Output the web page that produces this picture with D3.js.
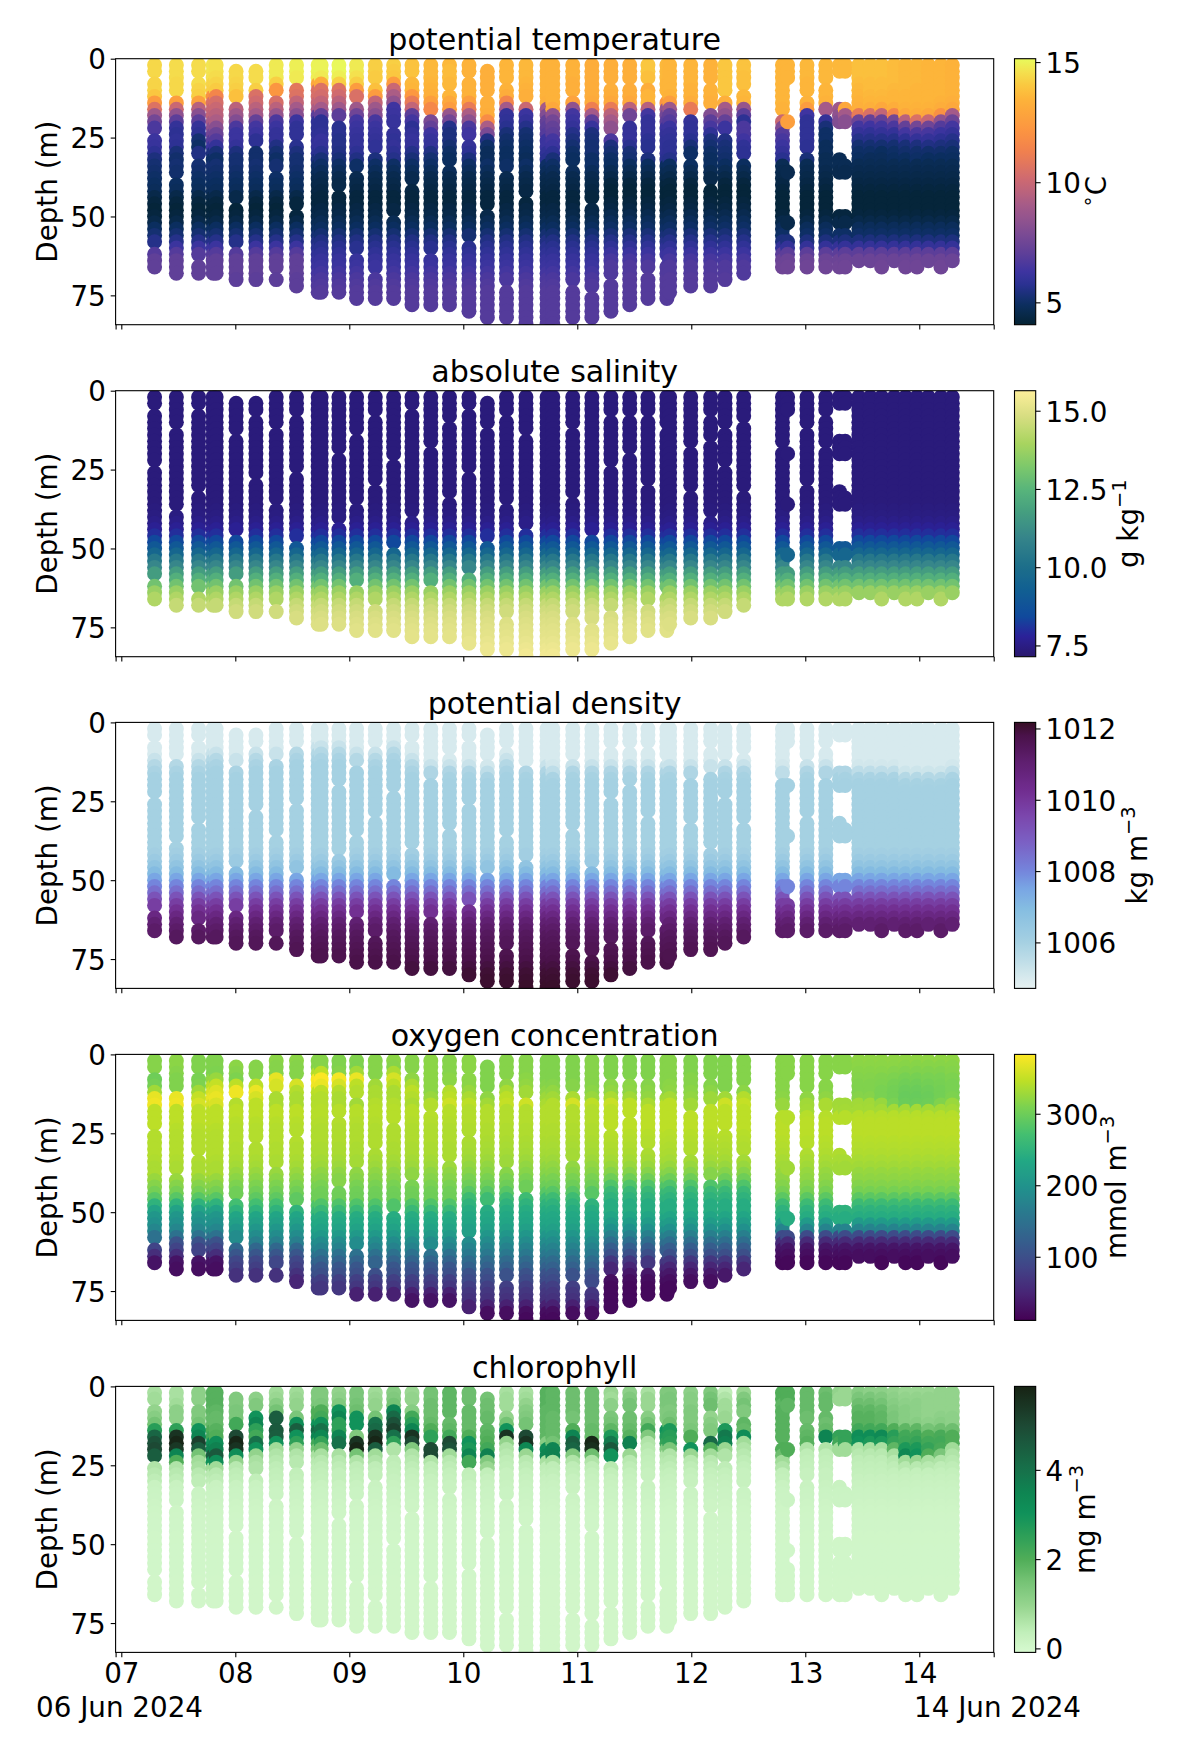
<!DOCTYPE html>
<html><head><meta charset="utf-8">
<script src="https://cdn.jsdelivr.net/npm/d3@7"></script>
<style>html,body{margin:0;padding:0;background:#fff}svg{display:block}text{font-family:"DejaVu Sans",sans-serif;fill:#000}</style>
</head><body><svg id="c" width="1200" height="1750"></svg>
<script>
const panelTitles=["potential temperature","absolute salinity","potential density","oxygen concentration","chlorophyll"];
const unitPrefix=["∘","","","",""];
const unitBase=["C","g kg","kg m","mmol m","mg m"];
const unitSup=["","−1","−3","−3","−3"];
const cbTicks=[[5,10,15],[7.5,10,12.5,15],[1006,1008,1010,1012],[100,200,300],[0,2,4]];
const cbFormats=[d3.format("d"),d3.format(".1f"),d3.format("d"),d3.format("d"),d3.format("d")];
const cbDomains=[[4.07,15.14],[7.14,15.64],[1004.71,1012.17],[11,383],[-0.09,5.87]];
const dayTicks=[7,8,9,10,11,12,13,14];
const depthTicks=[0,25,50,75];
const dayLimits=[6.95,14.653];
const depthLimits=[0,84.3];
const depthBins=[2,4,6,8,10,12,14,16,18,20,22,24,26,28,30,32,34,36,38,40,42,44,46,48,50,52,54,56,58,60,62,64,66,68,70,72,74,76,78,80,82,84];

const diveDays=[7.292,7.483,7.678,7.806,7.832,8.007,8.181,8.359,8.537,8.727,8.753,8.909,9.064,9.228,9.389,9.55,9.715,9.879,10.05,10.211,10.379,10.55,10.735,10.785,10.96,11.128,11.295,11.46,11.62,11.786,11.81,11.995,12.17,12.296,12.46,12.80,12.845,13.015,13.18,13.30,13.35,13.47,13.57,13.67,13.78,13.88,13.98,14.08,14.19,14.29];
const diveTops=[2,2,2,2,2,4,4,2,2,2,2,2,2,2,2,2,2,2,2,4,2,2,2,2,2,2,2,2,2,2,2,2,2,2,2,2,2,2,2,2,2,2,2,2,2,2,2,2,2,2];
const diveBottoms=[66,68,68,68,68,70,70,70,72,74,74,74,76,76,76,78,78,78,80,82,82,84,84,84,82,82,80,78,76,76,74,72,72,70,68,66,66,66,66,66,66,64,64,66,64,66,66,64,66,64];
const diveGaps=[[6,24,60],[12,38],[6,32,64],[],[],[14,46,60],[8,28],[12,36,68],[8,26,48],[],[],[20,42],[14,36,62],[8,30,68],[22,50],[6,40],[18,62],[10,34],[6,26,58],[12,48],[8,36,72],[14,44],[],[],[12,34,72],[46,74],[8,24,70],[20,8],[8,30,68],[12,64],[],[18,32],[8,16,40],[12,24],[10,32],
[18],[8,10,12,14,16,18,22,24,26,28,30,32,34,38,40,42,44,46,48,50,54,56],[12,30],[8,18],[6,8,10,12,14,22,24,26,28,30,38,40,42,44,46,48,54],[6,8,10,12,14,22,24,26,28,30,32,38,40,42,44,46,48,54],[],[],[],[],[],[],[],[],[]];

const tempUpper=[
[14.4,14.4,14.4,14.3,14.3,14.0,12.5,10.6,8.8,7.6,6.6,6.3,6.2,6.1,5.8,5.4],
[14.5,14.5,14.5,14.4,14.4,14.1,12.6,10.0,8.4,7.0,6.0,5.8,5.9,5.8,5.3,5.1],
[14.5,14.5,14.5,14.5,14.3,14.2,12.7,9.5,8.2,7.0,6.0,5.8,5.2,5.0,5.5,5.9],
[14.7,14.7,14.6,14.3,14.2,12.0,10.5,10.0,9.8,9.2,8.4,7.6,6.9,6.2,5.4,5.0],
[14.6,14.6,14.5,14.3,14.1,11.5,10.4,10.0,9.6,9.2,8.2,7.4,6.8,6.0,5.3,5.0],
[14.4,14.4,14.4,14.3,14.2,13.8,10.5,9.6,8.8,8.0,6.6,6.2,6.2,6.0,5.4,5.2],
[14.5,14.5,14.5,14.4,14.2,10.5,10.2,9.6,9.0,7.2,6.4,6.2,5.8,5.3,5.1,5.1],
[14.8,14.8,14.8,14.2,12.2,10.8,10.4,9.6,8.6,6.6,6.2,6.0,6.0,5.5,5.2,5.0],
[14.9,14.9,14.8,14.5,10.8,10.6,9.8,9.0,8.2,6.2,5.9,5.9,6.0,5.7,5.4,5.2],
[15.0,15.0,14.9,13.0,10.5,10.4,9.9,9.2,7.0,5.9,5.8,5.9,6.0,6.0,5.8,5.4],
[15.0,15.0,14.8,13.2,10.6,10.3,9.8,9.0,7.2,5.8,5.8,5.9,6.1,6.0,5.7,5.3],
[15.1,15.1,14.9,14.2,10.6,10.2,9.6,8.8,7.0,5.8,5.7,5.7,5.6,5.6,5.5,5.3],
[14.8,14.8,14.6,14.2,12.5,10.5,10.0,8.8,7.5,6.4,6.2,6.1,6.0,6.0,5.8,5.5],
[14.2,14.2,14.1,14.1,13.8,12.5,9.8,8.8,8.2,6.5,6.2,6.1,6.0,5.9,5.7,5.4],
[14.2,14.1,14.0,12.5,10.0,9.2,8.4,6.3,6.2,6.1,6.1,6.0,5.9,6.0,5.8,5.6],
[13.9,13.9,13.8,13.6,13.5,12.3,11.0,9.8,7.0,6.4,5.8,6.0,6.1,6.0,5.6,5.3],
[13.6,13.6,13.6,13.5,13.4,13.3,12.6,11.6,11.0,7.8,7.2,6.3,6.1,6.0,5.5,5.2],
[13.6,13.7,13.7,13.6,13.5,13.5,13.0,12.5,8.6,7.6,5.6,5.4,5.4,5.2,5.0,4.9],
[13.4,13.4,13.4,13.4,13.4,13.4,12.6,11.0,9.2,8.3,6.6,6.3,6.1,6.0,5.8,5.4],
[13.3,13.3,13.3,13.3,13.3,13.3,13.3,13.3,13.2,11.8,9.2,7.8,5.5,5.0,4.8,4.8],
[13.5,13.5,13.5,13.5,13.4,13.2,11.5,9.0,6.0,5.9,5.7,5.3,5.1,5.0,4.9,4.9],
[13.6,13.6,13.6,13.5,13.4,13.3,13.0,10.0,6.2,6.0,5.6,5.2,5.1,5.0,4.9,4.8],
[13.4,13.4,13.4,13.4,13.4,13.4,13.3,9.0,8.0,7.2,7.0,6.8,6.2,6.2,5.9,5.7],
[13.4,13.4,13.4,13.4,13.4,13.4,13.4,13.0,8.4,7.6,7.2,7.0,6.4,6.2,5.8,5.3],
[13.4,13.4,13.4,13.3,13.3,13.3,12.8,8.4,6.4,6.2,6.0,5.6,5.4,5.2,5.0,4.9],
[13.2,13.2,13.2,13.2,13.2,13.2,13.1,11.2,9.0,7.0,6.1,5.4,5.3,5.2,5.2,5.0],
[13.3,13.3,13.3,13.3,13.3,13.2,13.0,11.0,9.6,9.0,8.4,7.2,6.6,5.4,5.2,5.0],
[13.3,13.3,13.3,13.3,13.2,13.2,13.0,9.6,7.5,6.0,6.0,6.0,6.0,5.7,5.3,5.2],
[14.0,14.0,13.8,13.4,13.2,13.5,13.5,9.5,6.4,6.0,6.0,6.0,5.8,5.7,5.6,5.4],
[13.6,13.6,13.6,13.5,13.5,13.4,12.2,8.6,7.6,7.0,6.2,6.0,5.9,5.9,5.9,5.7],
[13.5,13.5,13.5,13.5,13.5,13.4,12.6,8.8,7.2,6.8,6.2,6.0,5.9,5.8,5.8,5.6],
[13.5,13.5,13.5,13.5,13.4,13.4,13.2,11.0,8.0,6.0,5.9,5.9,5.7,5.3,5.0,5.0],
[13.4,13.4,13.4,13.4,13.4,13.4,13.3,9.0,8.0,7.0,6.5,5.9,5.4,5.2,5.0,4.9],
[14.0,14.0,14.0,14.0,14.0,13.8,13.3,9.0,8.4,7.2,6.2,5.8,5.5,5.3,5.2,5.1],
[13.9,13.9,13.8,13.8,13.7,13.6,13.5,8.6,7.0,5.8,6.6,6.6,6.3,5.9,5.8,5.6],
[13.5,13.5,13.5,13.5,13.5,13.5,13.5,13.4,12.8,10.0,8.0,6.8,6.5,6.2,6.0,5.7],
[13.5,13.5,13.5,13.5,13.5,13.5,13.4,13.2,13.0,12.6,8.0,6.8,6.4,6.0,5.9,5.6],
[13.6,13.6,13.6,13.5,13.5,13.5,13.4,12.5,6.3,5.9,5.9,5.9,5.9,5.8,5.4,5.3],
[13.6,13.6,13.6,13.5,13.5,13.5,13.4,9.0,8.0,6.0,5.3,5.0,5.0,4.8,4.8,4.7],
[13.6,13.6,13.6,13.6,13.5,13.5,13.5,8.8,8.4,8.0,6.4,5.6,5.0,4.9,4.8,4.7],
[13.6,13.6,13.6,13.6,13.6,13.5,13.5,13.0,9.0,8.2,6.8,6.0,5.2,5.0,4.9,4.8],
[13.8,13.8,13.8,13.7,13.6,13.5,13.4,13.3,11.0,7.4,6.4,6.0,5.6,5.2,5.0,4.9],
[13.8,13.8,13.8,13.7,13.7,13.6,13.5,13.3,10.5,7.2,6.3,5.9,5.6,5.2,5.0,4.8],
[13.8,13.8,13.8,13.7,13.7,13.6,13.5,13.0,9.8,7.2,6.4,6.0,5.6,5.2,4.9,4.8],
[13.7,13.7,13.7,13.7,13.6,13.5,13.5,13.2,11.5,7.6,6.6,6.0,5.6,5.2,5.0,4.9],
[13.6,13.6,13.6,13.6,13.6,13.5,13.5,13.4,13.0,9.5,7.2,6.4,5.8,5.3,5.1,4.9],
[13.6,13.6,13.6,13.6,13.5,13.5,13.5,13.4,13.2,10.5,7.6,6.6,6.0,5.4,5.1,5.0],
[13.5,13.5,13.5,13.5,13.5,13.5,13.5,13.4,13.0,10.0,7.5,6.5,6.0,5.5,5.1,4.9],
[13.5,13.5,13.5,13.5,13.5,13.5,13.4,13.2,12.0,8.4,6.8,6.2,5.8,5.4,5.1,4.9],
[13.4,13.4,13.4,13.4,13.4,13.4,13.3,13.0,9.0,7.4,6.4,6.0,5.6,5.3,5.0,4.9]];
const tempLower=[
[5.2,5.1,5.0,4.9,4.8,4.5,4.3,4.2,4.3,4.5,4.9,5.2,5.6,6.2,6.8,7.1,7.1,7.1,7.0,7.0,6.9,6.9,6.9,6.9,6.9,6.9],
[5.0,4.8,4.6,4.5,4.4,4.3,4.3,4.4,4.5,4.7,4.9,5.2,5.5,5.7,5.9,6.1,6.2,6.4,6.6,6.7,6.8,6.8,6.8,6.8,6.8,6.8],
[4.9,4.7,4.5,4.3,4.2,4.2,4.3,4.4,4.6,4.8,5.0,5.3,5.6,5.9,6.2,6.5,6.7,6.7,6.8,6.8,6.8,6.8,6.8,6.8,6.8,6.8],
[4.7,4.6,4.5,4.4,4.3,4.2,4.2,4.2,4.3,4.5,4.8,5.0,5.4,6.0,7.0,7.4,7.5,7.5,7.5,7.5,7.5,7.5,7.5,7.5,7.5,7.5]];
const tempGroup=[0,0,0,0,0,0,0,0,0,1,1,1,1,1,1,1,1,1,1,1,1,1,1,1,1,1,2,2,2,2,2,2,2,2,2,3,3,3,3,3,3,3,3,3,3,3,3,3,3,3];

const salinity=[7.35,7.35,7.35,7.35,7.35,7.35,7.35,7.35,7.35,7.35,7.35,7.35,7.35,7.35,7.35,7.35,7.35,7.35,7.4,7.45,7.55,7.7,8.0,8.4,9.0,9.6,10.4,11.0,11.7,12.3,13.0,13.7,14.1,14.5,14.7,14.85,14.95,15.05,15.1,15.2,15.3,15.4];

const densUpper=[
[1005,1005,1005,1005.3,1005.7,1005.9,1006,1006,1006,1006],
[1005,1005,1005,1005,1005.3,1005.7,1005.9,1006,1006,1006],
[1005,1005,1005,1005,1005,1005.3,1005.7,1005.9,1006,1006],
[1005,1005,1005,1005,1005,1005,1005.3,1005.8,1005.95,1006],
[1005,1005,1005,1005,1005,1005,1005.1,1005.5,1005.9,1006],
[1005,1005,1005,1005,1005,1005,1005,1005.2,1005.7,1005.95]];
const densDeep=[1006,1006,1006,1006,1006,1006,1006,1006,1006,1006,1006.1,1006.3,1006.6,1007,1007.5,1008,1008.5,1009.2,1009.8,1010.2,1010.6,1011,1011.2,1011.4,1011.5,1011.6,1011.7,1011.8,1011.9,1012,1012.05,1012.1];
const densGroup=[2,2,2,1,1,2,1,1,0,0,0,0,1,1,0,2,3,3,3,4,2,3,3,4,3,3,3,3,3,3,3,3,3,3,3,4,4,3,3,3,3,4,4,4,4,5,5,5,5,4];

const oxyUpper=[
[315,315,305,300,305,330,370,375],[318,318,315,312,312,340,372,375],[312,312,310,308,310,330,350,360],[312,312,310,322,345,360,370,360],[312,312,310,325,350,365,372,362],
[318,318,315,310,345,375,365,340],[315,315,315,315,345,372,360,345],[318,315,315,370,360,340,335,335],[318,315,315,380,360,340,335,335],[315,315,340,380,375,345,340,340],[315,315,345,382,372,345,340,340],
[312,312,315,378,360,340,335,335],[312,310,330,372,345,340,330,330],[315,315,315,320,330,335,335,340],[318,315,335,360,345,335,335,340],[315,315,315,320,335,345,340,335],[318,318,318,318,318,318,325,340],
[315,315,315,318,330,340,345,355],[318,318,318,318,318,325,335,345],[312,312,312,312,312,315,320,330],[315,315,315,315,320,335,345,350],[315,315,315,318,322,330,340,355],[312,312,312,312,315,320,328,335],
[312,312,312,312,315,322,330,340],[312,312,312,312,315,320,335,360],[315,315,315,315,315,318,325,345],[312,312,312,312,318,322,335,352],[312,312,312,315,318,320,330,345],[312,312,312,315,315,318,322,335],
[315,315,315,315,315,318,330,345],[315,315,315,315,318,320,332,345],[312,312,312,315,315,318,322,330],[312,312,312,312,314,318,328,345],[312,312,312,312,312,314,330,355],[314,314,314,314,314,318,340,350],
[316,316,316,316,316,316,318,325],[316,316,316,316,316,318,325,340],[316,316,316,316,316,316,320,330],[316,316,316,316,316,316,320,335],[316,316,316,316,316,316,320,330],[316,316,316,316,316,316,322,330],
[320,318,316,314,312,312,315,330],[320,318,316,314,312,312,315,330],[320,318,316,312,310,308,308,325],[320,318,314,310,306,304,304,308],[320,316,312,306,302,298,296,298],[320,316,312,306,302,298,296,298],[320,316,312,308,304,300,298,300],[320,316,312,308,306,304,304,312],[320,316,314,310,308,308,310,326]];
const oxyLower=[
[345,345,345,342,340,340,340,340,338,335,335,325,315,305,285,250,225,205,195,180,150,105,85,60,30,25,20,20,20,20,20,20,20,20],
[345,345,342,340,340,340,338,338,335,332,325,318,310,302,290,270,250,230,220,205,190,170,135,110,90,80,65,50,40,40,40,40,40,40],
[342,342,340,338,338,338,336,335,332,328,320,315,308,302,300,280,260,240,235,225,210,190,175,150,130,110,100,80,70,45,30,30,30,30],
[340,340,340,338,338,336,334,332,328,322,316,308,300,285,265,250,240,235,230,220,205,190,175,160,140,125,105,95,80,70,65,45,25,20],
[345,345,345,345,342,340,338,336,332,325,315,300,280,260,250,240,240,230,215,195,170,145,120,100,70,50,35,25,20,20,20,20,20,20],
[332,342,344,344,344,342,340,338,334,330,324,320,314,306,288,264,248,240,212,176,95,55,32,25,18,18,18,18,18,18,18,18,18,18]];
const oxyGroup=[0,0,0,0,0,1,1,1,1,2,2,2,2,2,2,2,2,2,3,3,3,3,3,3,3,3,4,4,4,4,4,4,4,4,4,5,5,5,5,5,5,5,5,5,5,5,5,5,5,5];

const chlUpper=[
[.7,.8,.9,1.0,1.2,1.5,2.6,4.3,4.8,5.0,4.5,1.8,.6,.5,.4],
[.7,.7,.8,1.1,1.1,1.3,2.5,5.5,5.8,5.4,3.5,2.0,.6,.5,.4],
[1.1,1.1,1.2,1.3,1.3,1.5,3.0,3.5,5.2,4.5,1.5,.8,.7,.5,.4],
[1.9,1.9,1.9,1.8,1.7,1.7,2.0,2.2,3.0,3.5,4.5,3.0,.8,.5,.4],
[1.9,1.9,1.9,1.8,1.7,1.7,1.9,2.0,3.2,3.6,4.6,3.2,.8,.5,.4],
[1.3,1.3,1.3,1.4,1.4,2.2,3.5,5.0,5.8,5.5,3.2,1.0,.5,.4,.35],
[1.0,1.1,1.3,1.4,3.0,3.5,2.5,2.2,4.0,3.0,1.0,.7,.6,.4,.35],
[.8,.9,1.2,1.5,4.5,4.8,4.6,4.5,3.0,.8,.6,.5,.4,.35,.3],
[.8,.9,1.0,1.3,1.4,3.2,4.5,3.0,2.5,1.0,.6,.5,.4,.35,.3],
[1.3,1.3,1.4,2.0,2.0,3.0,4.2,3.5,2.2,1.5,.7,.5,.4,.35,.3],
[1.3,1.3,1.4,2.0,2.2,3.1,4.0,3.4,2.4,1.6,.7,.5,.4,.35,.3],
[1.0,1.1,1.3,3.0,3.5,2.5,2.5,3.5,4.0,3.0,.7,.5,.4,.3,.3],
[1.4,1.4,1.5,1.6,3.0,3.0,1.5,1.3,5.5,5.8,1.5,.6,.4,.35,.3],
[.8,.9,1.0,1.0,1.5,4.0,4.2,5.5,5.8,4.5,.8,.6,.4,.35,.3],
[1.2,1.3,1.5,3.5,4.2,4.8,5.2,4.0,2.5,.6,.5,.4,.35,.3,.25],
[.9,1.0,1.0,1.2,2.2,2.6,3.5,5.5,5.0,1.3,.6,.5,.4,.3,.25],
[1.5,1.5,1.6,1.6,1.6,1.7,2.0,2.5,2.5,5.0,5.0,.6,.4,.35,.25],
[1.8,1.8,1.8,1.8,1.7,1.7,1.8,2.2,5.0,4.8,.8,.5,.4,.3,.25],
[1.6,1.6,1.7,1.7,1.7,1.7,1.7,2.0,3.0,2.8,3.5,2.2,.5,.35,.3],
[1.5,1.5,1.6,1.6,1.7,1.7,1.8,1.9,2.0,2.2,3.6,1.3,.9,.35,.25],
[.7,.8,.8,1.0,1.0,1.5,3.0,5.5,1.0,.6,.5,.4,.35,.25,.25],
[.7,.8,1.0,1.2,1.3,1.5,3.0,5.0,5.5,3.4,.9,.5,.4,.3,.25],
[1.9,1.9,1.9,1.8,1.8,1.8,1.8,1.8,1.2,3.2,3.5,.7,.4,.35,.25],
[1.8,1.8,1.8,1.8,1.7,1.7,1.7,1.7,1.5,3.5,3.6,.7,.4,.35,.25],
[1.6,1.6,1.6,1.6,1.5,1.4,2.0,3.5,4.5,4.3,1.3,.6,.4,.35,.25],
[1.6,1.6,1.6,1.6,1.6,1.6,1.7,1.7,5.8,5.6,1.6,.6,.4,.3,.25],
[.9,.8,1.1,1.4,1.4,1.5,1.8,2.8,3.8,4.6,3.0,.7,.5,.35,.25],
[1.1,1.3,1.5,1.6,1.6,1.6,1.7,1.9,3.6,3.3,.9,.5,.4,.3,.25],
[.7,.9,.9,1.0,1.2,1.5,2.2,1.3,.6,.5,.4,.35,.3,.25,.25],
[1.3,1.4,1.4,1.3,1.3,1.4,3.0,2.7,2.4,1.3,.6,.5,.4,.3,.25],
[1.3,1.4,1.4,1.3,1.4,1.6,2.8,2.6,2.5,1.4,.6,.5,.4,.3,.25],
[1.1,1.2,1.2,1.3,1.3,1.3,1.4,2.0,3.5,3.0,.9,.5,.4,.3,.25],
[1.3,1.5,1.6,1.2,1.0,1.2,1.3,1.5,4.2,2.0,.8,.5,.4,.3,.25],
[.4,.6,.8,.8,.9,1.0,2.8,3.8,3.6,.9,.6,.5,.4,.3,.25],
[.9,1.3,1.5,1.3,1.6,1.8,1.7,3.2,.8,.6,.5,.4,.3,.25,.25],
[2.0,2.0,1.8,1.9,1.9,1.9,1.9,1.9,1.9,2.0,1.6,.8,.6,.35,.3],
[2.0,2.0,1.8,1.9,1.9,1.9,1.9,2.0,2.0,2.0,1.8,.8,.6,.35,.3],
[1.7,1.7,1.7,1.7,1.6,1.6,1.7,1.8,1.9,.6,.4,.35,.3,.25,.25],
[1.6,1.7,1.7,1.7,1.7,1.6,1.7,3.5,2.5,.6,.4,.35,.3,.25,.25],
[1.0,.9,.9,.9,.9,.9,2.2,2.4,2.2,.8,.5,.35,.3,.25,.25],
[.9,.9,.9,.9,.9,.9,.9,2.4,2.4,.8,.6,.4,.3,.25,.25],
[1.2,1.4,1.6,1.8,1.9,1.9,2.2,3.2,3.0,.6,.5,.4,.35,.3,.25],
[1.1,1.4,1.6,1.8,1.9,1.9,2.2,3.2,2.8,.7,.5,.4,.35,.3,.25],
[1.1,1.3,1.5,1.7,1.8,1.8,2.2,3.3,2.8,.7,.5,.4,.35,.3,.25],
[1.0,1.1,1.2,1.3,1.4,1.4,2.0,2.6,2.4,1.8,.7,.5,.4,.3,.25],
[.9,1.0,1.1,1.2,1.2,1.2,1.8,2.2,2.3,2.8,3.4,.8,.5,.3,.25],
[.9,1.0,1.1,1.1,1.1,1.2,1.8,2.2,2.4,2.8,3.0,.9,.5,.3,.25],
[.9,1.0,1.0,1.0,1.0,1.1,1.5,2.0,2.2,2.4,2.0,.7,.5,.3,.25],
[1.0,1.0,1.0,1.0,1.1,1.2,1.6,2.1,2.2,2.1,1.4,.6,.4,.3,.25],
[1.0,1.0,1.0,1.0,1.1,1.1,1.6,2.0,2.0,.8,.6,.5,.4,.3,.25]];
const chlDeep=[.2,.17,.15,.12,.1,.08,.07,.07,.06,.06,.05,.05,.05,.05,.05,.04,.04,.04,.04,.04,.04,.04,.04,.04,.04,.04,.04];

const thermalStops=[[0,"#042333"],[.08,"#0c2f62"],[.15,"#2a3191"],[.2,"#3e34a0"],[.27,"#5f3f98"],[.35,"#7f4c93"],[.45,"#a65b88"],[.55,"#cf6a70"],[.65,"#f0804f"],[.72,"#fb9242"],[.8,"#fda63c"],[.85,"#fdb43a"],[.9,"#fac840"],[.95,"#f4e04e"],[1,"#e8fa5b"]];
const halineStops=[[0,"#2a186c"],[.08,"#2b229b"],[.15,"#10499c"],[.25,"#115f92"],[.34,"#1d6f8a"],[.45,"#36858a"],[.55,"#46a07f"],[.63,"#58b57b"],[.72,"#7fc96a"],[.8,"#a7d45f"],[.9,"#d5dd80"],[1,"#fdee9a"]];
const denseStops=[[0,"#e6f1f1"],[.17,"#a6d1e2"],[.3,"#85bde1"],[.38,"#78a4e4"],[.44,"#7485dc"],[.55,"#7b60c4"],[.65,"#7b46ac"],[.75,"#702c8e"],[.85,"#5f1f70"],[.95,"#4a124a"],[1,"#360e24"]];
const viridisStops=[0,.1,.2,.3,.4,.5,.6,.7,.8,.9,1].map(t=>[t,d3.interpolateViridis(t)]);
const algaeStops=[[0,"#d7f9d0"],[.08,"#c0eeb8"],[.17,"#98d690"],[.27,"#74c274"],[.35,"#50ad58"],[.44,"#2c9f58"],[.52,"#10925a"],[.6,"#0e8552"],[.69,"#17704a"],[.85,"#1d4a35"],[1,"#172314"]];
const colormaps=[thermalStops,halineStops,denseStops,viridisStops,algaeStops];

const svg=d3.select("#c");
const defs=svg.append("defs");
const L=115.6,R=993.7,H=266;
const panelTops=[58.7,390.7,722.4,1054.4,1386.4];
const cbLeft=1014.5,cbRight=1035.7;
const unitX=[1106,1138,1146.5,1126,1095];
const fs=27.78,titleFs=30.1;
const x=d3.scaleLinear().domain(dayLimits).range([L,R]);

function valueAt(panel,d,z){
  const i=(z-2)/2;
  if(panel===0) return z<=32?tempUpper[d][i]:tempLower[tempGroup[d]][(z-34)/2];
  if(panel===1) return salinity[i];
  if(panel===2) return z<=20?densUpper[densGroup[d]][i]:densDeep[(z-22)/2];
  if(panel===3) return z<=16?oxyUpper[d][i]:oxyLower[oxyGroup[d]][(z-18)/2];
  return z<=30?chlUpper[d][i]:chlDeep[(z-32)/2];
}

panelTitles.forEach((title,p)=>{
  const top=panelTops[p];
  const y=d3.scaleLinear().domain(depthLimits).range([top,top+H]);
  const cmap=d3.scaleLinear().domain(colormaps[p].map(s=>s[0])).range(colormaps[p].map(s=>s[1])).interpolate(d3.interpolateRgb);
  const norm=d3.scaleLinear().domain(cbDomains[p]).range([0,1]).clamp(true);
  const clipId="clip"+p;
  defs.append("clipPath").attr("id",clipId).append("rect").attr("x",L).attr("y",top).attr("width",R-L).attr("height",H);
  const points=diveDays.flatMap((day,d)=>depthBins.filter(z=>z>=diveTops[d]&&z<=diveBottoms[d]&&!diveGaps[d].includes(z)).map(z=>({day,z,v:valueAt(p,d,z)})));
  svg.append("g").attr("clip-path",`url(#${clipId})`).selectAll("circle").data(points).join("circle")
    .attr("cx",q=>x(q.day)).attr("cy",q=>y(q.z)).attr("r",7.5).attr("fill",q=>cmap(norm(q.v)));

  svg.append("rect").attr("x",L).attr("y",top).attr("width",R-L).attr("height",H).attr("fill","none").attr("stroke","#000").attr("stroke-width",1.1);
  const ya=svg.append("g").attr("transform",`translate(${L},0)`).call(d3.axisLeft(y).tickValues(depthTicks).tickSize(4.9).tickPadding(4.9).tickFormat(d3.format("d")));
  ya.select(".domain").remove();
  ya.selectAll("line").attr("stroke","#000").attr("stroke-width",1.1);
  ya.selectAll("text").attr("font-size",fs).attr("dy","0.37em").attr("font-family","DejaVu Sans");
  const xa=svg.append("g").attr("transform",`translate(0,${top+H})`).call(d3.axisBottom(x).tickValues([dayLimits[0],...dayTicks,dayLimits[1]]).tickSize(4.9).tickPadding(6.3)
    .tickFormat(v=>(p===4&&dayTicks.includes(v))?d3.format("02d")(v):""));
  xa.select(".domain").remove();
  xa.selectAll("line").attr("stroke","#000").attr("stroke-width",1.1);
  xa.selectAll("text").attr("font-size",fs).attr("dy","0.71em").attr("font-family","DejaVu Sans");
  svg.append("text").attr("x",(L+R)/2).attr("y",top-8.3).attr("text-anchor","middle").attr("font-size",titleFs).text(title);
  svg.append("text").attr("transform",`translate(${57},${top+H/2}) rotate(-90)`).attr("text-anchor","middle").attr("font-size",fs).text("Depth (m)");
  const gid="grad"+p;
  const grad=defs.append("linearGradient").attr("id",gid).attr("x1",0).attr("x2",0).attr("y1",1).attr("y2",0);
  d3.range(0,1.0001,1/40).forEach(t=>grad.append("stop").attr("offset",t).attr("stop-color",cmap(t)));
  svg.append("rect").attr("x",cbLeft).attr("y",top).attr("width",cbRight-cbLeft).attr("height",H).attr("fill",`url(#${gid})`).attr("stroke","#000").attr("stroke-width",1.1);
  const cy=d3.scaleLinear().domain(cbDomains[p]).range([top+H,top]);
  const ca=svg.append("g").attr("transform",`translate(${cbRight},0)`).call(d3.axisRight(cy).tickValues(cbTicks[p]).tickSize(4.9).tickPadding(4.9).tickFormat(cbFormats[p]));
  ca.select(".domain").remove();
  ca.selectAll("line").attr("stroke","#000").attr("stroke-width",1.1);
  ca.selectAll("text").attr("font-size",fs).attr("dy","0.37em").attr("font-family","DejaVu Sans");
  const u=svg.append("text").attr("transform",`translate(${unitX[p]},${top+H/2}) rotate(-90)`).attr("text-anchor","middle").attr("font-size",fs);
  if(unitPrefix[p]){
    u.append("tspan").attr("dy",-12).attr("font-size",fs*0.7).text(unitPrefix[p]);
    u.append("tspan").attr("dy",12).text(unitBase[p]);
  } else {
    u.append("tspan").text(unitBase[p]);
    u.append("tspan").attr("dy",-12).attr("font-size",fs*0.7).text(unitSup[p]);
  }
});
svg.append("text").attr("x",119.5).attr("y",1717.3).attr("text-anchor","middle").attr("font-size",fs).text("06 Jun 2024");
svg.append("text").attr("x",997.5).attr("y",1717.3).attr("text-anchor","middle").attr("font-size",fs).text("14 Jun 2024");
</script></body></html>
